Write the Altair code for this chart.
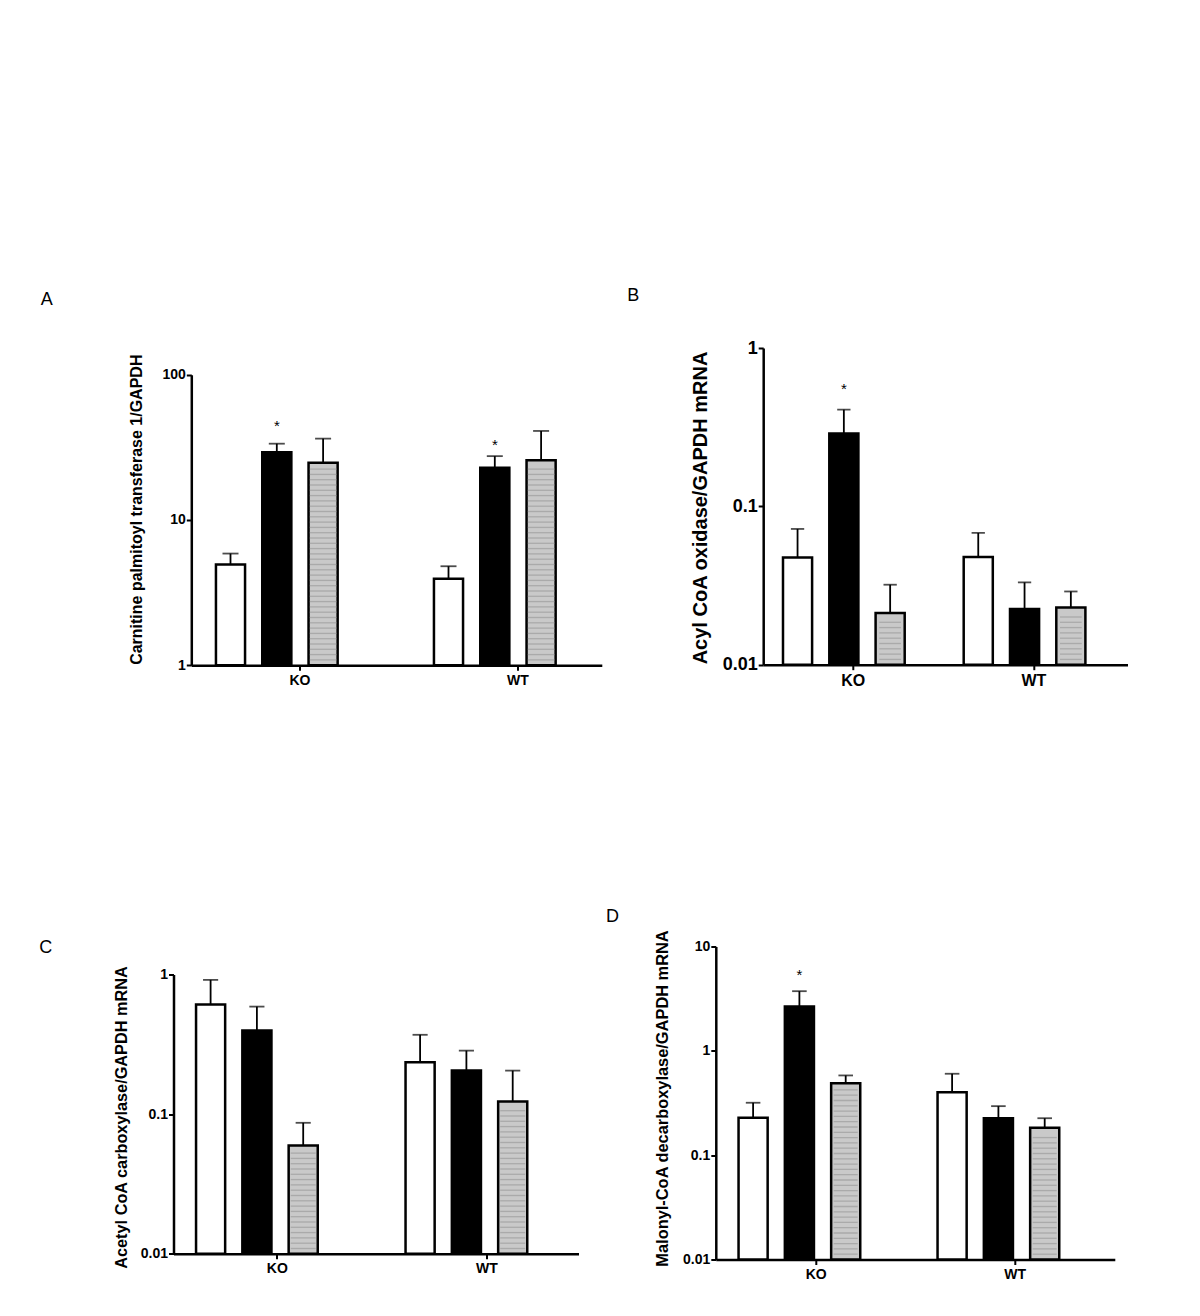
import math
import altair as alt
import pandas as pd

GROUPS = ["KO", "WT"]
TREATS = ["open", "filled", "striped"]

# ---------------- data ----------------
A_VALUES = [4.93, 29.3, 24.8, 3.93, 22.9, 25.8]
A_UPPER = [5.87, 33.5, 36.3, 4.80, 27.5, 41.0]
A_STAR_TREAT = ["filled", "filled"]
A_STAR_GROUP = ["KO", "WT"]
A_STAR_Y = [46.8, 34.9]
A_TICKS = [1, 10, 100]
A_TITLE = "Carnitine palmitoyl transferase 1/GAPDH"

B_VALUES = [0.0476, 0.288, 0.0212, 0.0479, 0.0225, 0.0230]
B_UPPER = [0.0720, 0.408, 0.0320, 0.0679, 0.0331, 0.0290]
B_STAR_TREAT = ["filled"]
B_STAR_GROUP = ["KO"]
B_STAR_Y = [0.579]
B_TICKS = [0.01, 0.1, 1]
B_TITLE = "Acyl CoA oxidase/GAPDH mRNA"

C_VALUES = [0.610, 0.397, 0.0596, 0.235, 0.205, 0.123]
C_UPPER = [0.915, 0.589, 0.0867, 0.370, 0.285, 0.205]
C_STAR_TREAT = []
C_STAR_GROUP = []
C_STAR_Y = []
C_TICKS = [0.01, 0.1, 1]
C_TITLE = "Acetyl CoA carboxylase/GAPDH mRNA"

D_VALUES = [0.228, 2.666, 0.490, 0.402, 0.226, 0.183]
D_UPPER = [0.318, 3.73, 0.581, 0.603, 0.295, 0.226]
D_STAR_TREAT = ["filled"]
D_STAR_GROUP = ["KO"]
D_STAR_Y = [5.77]
D_TICKS = [0.01, 0.1, 1, 10]
D_TITLE = "Malonyl-CoA decarboxylase/GAPDH mRNA"

# ---------------- styling / geometry ----------------
FONT = "Liberation Sans"
STROKE = 2.5
STRIPE = 5.3

GEOM = {
    "A": dict(W=410.5, H=290.5, top=26.7, left=17.8, S=218.0, c1=85.5, bar_w=29.1,
              bar_step=46.3, tick_fs=14, x_fs=14, title_fs=16, title_x=-54.5,
              title_y=134.5, letter_x=-144.5, letter_y=-75),
    "B": dict(W=364.3, H=316.7, top=0.0, left=47.4, S=180.7, c1=70.6, bar_w=24.2,
              bar_step=38.7, tick_fs=18, x_fs=16, title_fs=20, title_x=-63,
              title_y=159.5, letter_x=-130, letter_y=-52),
    "C": dict(W=405.0, H=279.3, top=28.0, left=0.0, S=209.5, c1=81.3, bar_w=27.5,
              bar_step=45.0, tick_fs=14, x_fs=14, title_fs=16.3, title_x=-52,
              title_y=142.5, letter_x=-127.7, letter_y=-27),
    "D": dict(W=399.0, H=313.0, top=0.0, left=0.0, S=199.0, c1=78.9, bar_w=26.5,
              bar_step=42.9, tick_fs=14, x_fs=14, title_fs=16.4, title_x=-53,
              title_y=151.5, letter_x=-103.3, letter_y=-30),
}


def panel(letter, values, upper, star_group, star_treat, star_y, ticks, title):
    g = GEOM[letter]
    W, H, S, top, left = g["W"], g["H"], g["S"], g["top"], g["left"]
    bw = 2 * g["bar_step"] + g["bar_w"]
    pio = 1 - g["bar_w"] / g["bar_step"]
    pi = 1 - bw / S
    leftover = W - S * (2 - pi)
    po = leftover / (2 * S)
    align = (g["c1"] - bw / 2) / leftover
    tick_band = (g["bar_w"] / 2 + 1.5 * g["bar_step"]) / bw
    label_shift = (tick_band - 0.5) * bw

    domain = [ticks[0], ticks[-1]]
    ld = math.log10(domain[0])
    pxdec = H / (math.log10(domain[1]) - ld)

    df = pd.DataFrame({
        "group": [gr for gr in GROUPS for _ in TREATS],
        "treat": TREATS * 2,
        "value": values,
        "upper": upper,
    })
    sdf = pd.DataFrame({"group": star_group, "treat": star_treat, "star": star_y})

    x_enc = alt.X(
        "group:N",
        scale=alt.Scale(domain=GROUPS, paddingInner=pi, paddingOuter=po, align=align,
                        range=[left, left + W]),
        axis=alt.Axis(
            labelAngle=0, labelFont=FONT, labelFontSize=g["x_fs"], labelFontWeight="bold",
            labelColor="black", labelPadding=3, labelOffset=label_shift,
            domainColor="black", domainWidth=STROKE,
            tickColor="black", tickWidth=2, tickSize=5, bandPosition=tick_band, grid=False,
        ),
        title=None,
    )
    xo_enc = alt.XOffset(
        "treat:N", scale=alt.Scale(domain=TREATS, paddingInner=pio, paddingOuter=0)
    )
    y_axis = alt.Axis(
        values=ticks, format="~g", labelFont=FONT, labelFontSize=g["tick_fs"],
        labelFontWeight="bold", labelColor="black", labelPadding=1,
        domainColor="black", domainWidth=STROKE, tickColor="black", tickWidth=2,
        tickSize=5, grid=False, offset=-left, titleFont=FONT,
        titleFontSize=g["title_fs"], titleFontWeight="bold", titleColor="black",
        titleX=g["title_x"], titleY=g["title_y"] + top, titleBaseline="middle",
        titleAlign="center", titleAngle=270,
    )
    yscale = alt.Scale(type="log", domain=domain, nice=False, range=[top + H, top])

    def yenc(field):
        return alt.Y(f"{field}:Q", scale=yscale, axis=y_axis, title=title)

    bars = alt.Chart(df).mark_bar(stroke="black", strokeWidth=STROKE).encode(
        x=x_enc, xOffset=xo_enc, y=yenc("value"), y2=alt.datum(domain[0]),
        fill=alt.Fill("treat:N", scale=alt.Scale(domain=TREATS,
                      range=["#ffffff", "#000000", "#c9c9c9"]), legend=None),
    )

    stripes = (
        alt.Chart(df)
        .transform_filter(alt.datum.treat == "striped")
        .transform_calculate(
            n=f"floor((log(datum.value)/LN10 - ({ld})) * {pxdec} / {STRIPE})")
        .transform_calculate(k="sequence(1, datum.n)")
        .transform_flatten(["k"])
        .transform_calculate(sv=f"pow(10, {ld} + datum.k * {STRIPE} / {pxdec})")
        .mark_tick(color="#9c9c9c", thickness=1.3, size=g["bar_w"] - STROKE,
                   orient="horizontal")
        .encode(x=x_enc, xOffset=xo_enc, y=yenc("sv"))
    )

    rule = alt.Chart(df).mark_rule(color="black", strokeWidth=1.8).encode(
        x=x_enc, xOffset=xo_enc, y=yenc("value"), y2="upper:Q"
    )
    cap = alt.Chart(df).mark_tick(color="black", thickness=1.8,
                                  size=g["bar_w"] * 0.55).encode(
        x=x_enc, xOffset=xo_enc, y=yenc("upper")
    )
    layers = [bars, stripes, rule, cap]
    if len(sdf):
        stars = alt.Chart(sdf).mark_text(
            text="*", font=FONT, fontSize=15, color="black",
            baseline="alphabetic", dy=8.7,
        ).encode(x=x_enc, xOffset=xo_enc, y=yenc("star"))
        layers.append(stars)
    lab = alt.Chart(pd.DataFrame({"letter": [letter]})).mark_text(
        font=FONT, fontSize=18, color="black", align="center", baseline="middle"
    ).encode(x=alt.value(g["letter_x"] + left), y=alt.value(g["letter_y"] + top),
             text="letter:N")
    layers.append(lab)
    return alt.layer(*layers).properties(width=W + left, height=H + top)


pA = panel("A", A_VALUES, A_UPPER, A_STAR_GROUP, A_STAR_TREAT, A_STAR_Y, A_TICKS, A_TITLE)
pB = panel("B", B_VALUES, B_UPPER, B_STAR_GROUP, B_STAR_TREAT, B_STAR_Y, B_TICKS, B_TITLE)
pC = panel("C", C_VALUES, C_UPPER, C_STAR_GROUP, C_STAR_TREAT, C_STAR_Y, C_TICKS, C_TITLE)
pD = panel("D", D_VALUES, D_UPPER, D_STAR_GROUP, D_STAR_TREAT, D_STAR_Y, D_TICKS, D_TITLE)

chart = (
    alt.concat(
        pA, pB, pC, pD,
        columns=2, bounds="flush",
        spacing={"row": 280.5, "column": 113.3},
    )
    .properties(padding={"left": 30.5, "top": 279, "right": 5, "bottom": 5})
    .configure_view(stroke=None)
)

chart.save("out.html", embed_options={"renderer": "svg", "actions": False})
